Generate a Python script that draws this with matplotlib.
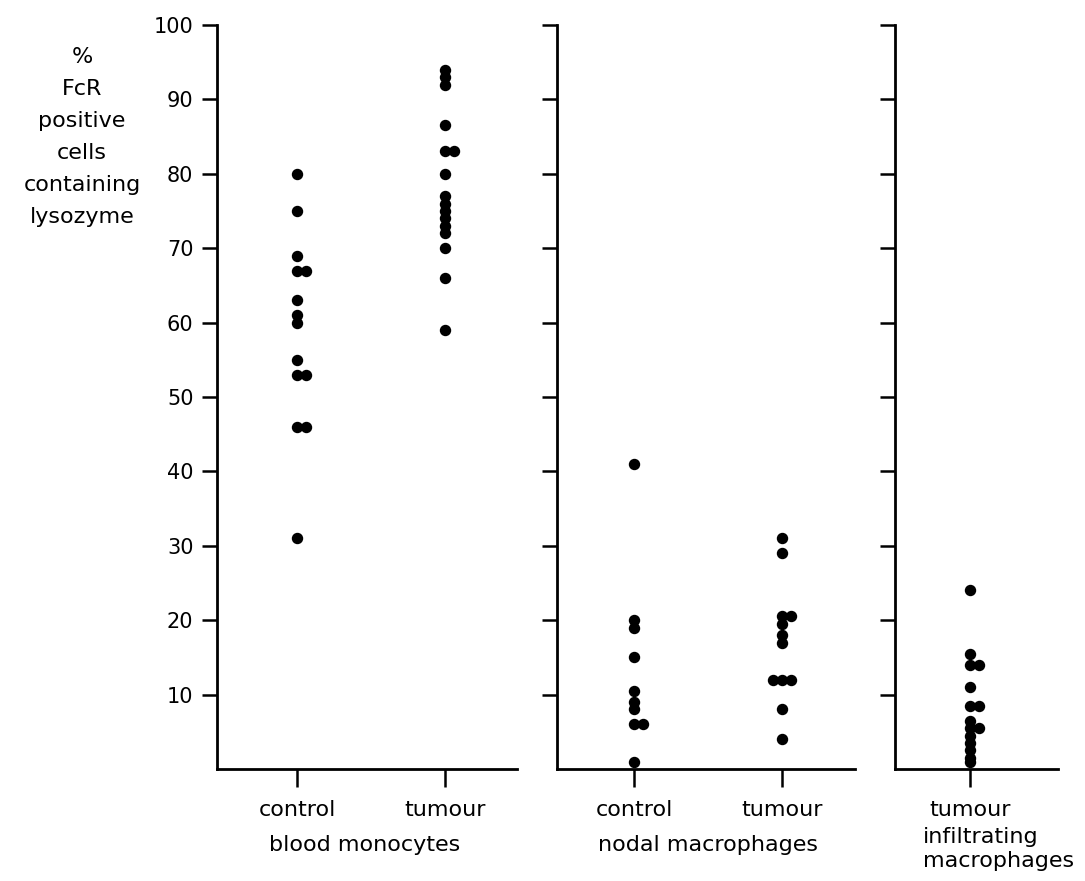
import numpy as np
import matplotlib
matplotlib.use("Agg")
import matplotlib.pyplot as plt

# Values (% of FcR positive cells containing lysozyme)
blood_control = [80, 75, 69, 67, 67, 63, 61, 60, 55, 53, 53, 46, 46, 31]
blood_tumour = [94, 93, 92, 86.5, 83, 83, 80, 77, 76, 75, 74, 73, 72, 70, 66, 59]
nodal_control = [41, 20, 19, 15, 10.5, 9, 8, 6, 6, 1]
nodal_tumour = [31, 29, 20.5, 20.5, 19.5, 18, 17, 12, 12, 12, 8, 4]
infiltrating_tumour = [24, 15.5, 14, 14, 11, 8.5, 8.5, 6.5, 5.5, 5.5, 4.5, 3.5, 2.5, 1.5, 1]

panel_categories = [["control", "tumour"], ["control", "tumour"], ["tumour"]]
panel_series = [[blood_control, blood_tumour], [nodal_control, nodal_tumour], [infiltrating_tumour]]
group_names = ["blood monocytes", "nodal macrophages", "infiltrating\nmacrophages"]

y_ticks = [10, 20, 30, 40, 50, 60, 70, 80, 90, 100]

W, H = 1085, 881


def column_offsets(values, step=0.064):
    """Equal values sit side by side: first on the column, then right, then left."""
    offsets = []
    seen = {}
    for v in values:
        k = seen.get(v, 0)
        seen[v] = k + 1
        offsets.append([0, 1, -1, 2][k] * step)
    return np.array(offsets)


def style_axis(ax, show_labels):
    for side in ("top", "right"):
        ax.spines[side].set_visible(False)
    for side in ("left", "bottom"):
        ax.spines[side].set_linewidth(2.0)
    ax.set_ylim(0, 100)
    ax.set_yticks(y_ticks)
    ax.tick_params(axis="y", direction="out", length=11, width=1.8, pad=6, labelsize=15)
    ax.tick_params(axis="x", direction="out", length=13, width=1.8, pad=9, labelsize=16)
    if not show_labels:
        ax.set_yticklabels([])


def draw():
    fig = plt.figure(figsize=(W / 100, H / 100), dpi=100)
    plt.rcParams["font.family"] = "DejaVu Sans"

    # panel edges in pixels: (left spine, right end, first category)
    edges = [(217, 517, 297), (557, 855, 634), (895, 1058, 970)]
    unit = 148.0
    bottom, top = 769, 25

    for i, (left, right, first) in enumerate(edges):
        ax = fig.add_axes([left / W, (H - bottom) / H, (right - left) / W, (bottom - top) / H])
        ax.patch.set_alpha(0)
        for j, values in enumerate(panel_series[i]):
            xs = j + column_offsets(values)
            ax.plot(xs, values, "o", color="black", markersize=7.2, clip_on=False)
        ax.set_xlim((left - first) / unit, (right - first) / unit)
        ax.set_xticks(range(len(panel_categories[i])))
        ax.set_xticklabels(panel_categories[i])
        style_axis(ax, i == 0)

    # group names under the category labels
    fig.text(365 / W, (H - 845) / H, group_names[0], ha="center", va="center", fontsize=16)
    fig.text(708 / W, (H - 845) / H, group_names[1], ha="center", va="center", fontsize=16)
    fig.text(923 / W, (H - 849) / H, group_names[2], ha="left", va="center",
             fontsize=16, linespacing=1.25)

    # y axis title, stacked
    fig.text(82 / W, (H - 137) / H, "%\nFcR\npositive\ncells\ncontaining\nlysozyme",
             ha="center", va="center", fontsize=16, linespacing=1.75)

    fig.savefig("out.png", dpi=100)


if __name__ == "__main__":
    draw()
